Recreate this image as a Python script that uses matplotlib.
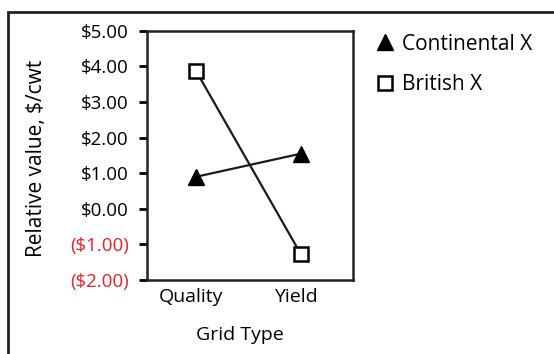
import matplotlib
matplotlib.use("Agg")
import matplotlib.pyplot as plt
from matplotlib.patches import Rectangle
from matplotlib.lines import Line2D
from matplotlib.transforms import ScaledTranslation

# Relative value of each grid type, $/cwt
grid_types = ["Quality", "Yield"]
continental_x = [0.90, 1.55]
british_x = [3.87, -1.28]
y_ticks = [5, 4, 3, 2, 1, 0, -1, -2]

plt.rcParams['font.family'] = ['Open Sans', 'DejaVu Sans']


def moneyLabel(v):
    # accounting style: negatives in brackets
    if v < 0:
        return r"(\${:.2f})".format(-v)
    return r"\${:.2f}".format(v)


def main():
    fig = plt.figure(figsize=(5.54, 3.54), dpi=100)
    ax = fig.add_axes([0.265, 0.209, 0.373, 0.704])

    xs = range(len(grid_types))
    ax.plot(xs, continental_x, color="#1a1a1a", lw=1.6, marker="^",
            markersize=11, markerfacecolor="black", markeredgecolor="black")
    ax.plot(xs, british_x, color="#1a1a1a", lw=1.6, marker="s",
            markersize=9.5, markerfacecolor="white", markeredgecolor="black",
            markeredgewidth=1.8)

    ax.set_xlim(-0.47, 1.5)
    ax.set_ylim(-2, 5)
    ax.set_xticks(list(xs))
    ax.set_xticklabels(grid_types, fontsize=14)
    ax.tick_params(axis="x", length=0, pad=6)
    # category labels sit a touch left of the points
    shift = ScaledTranslation(-5 / 100, 0, fig.dpi_scale_trans)
    for lbl in ax.get_xticklabels():
        lbl.set_transform(lbl.get_transform() + shift)

    ax.set_yticks(y_ticks)
    ax.set_yticklabels([moneyLabel(v) for v in y_ticks], fontsize=13.5)
    ax.tick_params(axis="y", direction="out", length=6, width=2, pad=7)
    for lbl, v in zip(ax.get_yticklabels(), y_ticks):
        if v < 0:
            lbl.set_color("#e8202a")

    for s in ax.spines.values():
        s.set_linewidth(1.8)
        s.set_color("#222222")

    ax.set_xlabel("Grid Type", fontsize=14)
    ax.xaxis.set_label_coords(0.452, -0.185)
    ax.set_ylabel(r"Relative value, \$/cwt", fontsize=15)
    ax.yaxis.set_label_coords(-0.483, 0.49)

    handles = [
        Line2D([], [], ls="none", marker="^", markersize=11,
               markerfacecolor="black", markeredgecolor="black"),
        Line2D([], [], ls="none", marker="s", markersize=9.5,
               markerfacecolor="white", markeredgecolor="black",
               markeredgewidth=1.8),
    ]
    fig.legend(handles, ["Continental X", "British X"], loc="upper left",
               bbox_to_anchor=(0.643, 0.958), frameon=False, fontsize=15,
               handlelength=1.0, handletextpad=0.3, labelspacing=0.95)

    # outer border running off the right and bottom edges
    fig.patches.append(Rectangle((0.0144, -0.1), 1.2, 1.066, fill=False,
                                 lw=2, edgecolor="#222222",
                                 transform=fig.transFigure, clip_on=False))

    fig.savefig("out.png", dpi=100)


if __name__ == '__main__':
    main()
